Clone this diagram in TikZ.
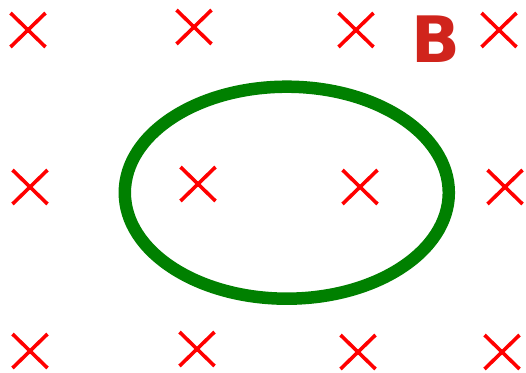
\documentclass[tikz,border=0pt]{standalone}
\usepackage{fontspec}
\setmainfont{DejaVu Sans}
\definecolor{bred}{RGB}{208,36,28}
\definecolor{loopgreen}{RGB}{0,128,0}
\tikzset{
  crossmark/.style={draw=red, line width=3.6pt},
  loopline/.style={draw=loopgreen, line width=12.5pt}
}
\begin{document}
\begin{tikzpicture}[x=1pt,y=-1pt]
\useasboundingbox (0,0) rectangle (526,372);
\foreach \cx/\cy in {28/30, 194/27, 356/30, 499/30,
                     30/187, 198/184, 360/187, 505/187,
                     30/351, 197/349, 358/352, 502/352}{
  \draw[crossmark] (\cx-17.5,\cy-17) -- (\cx+17.5,\cy+17);
  \draw[crossmark] (\cx-17.5,\cy+17) -- (\cx+17.5,\cy-17);
}
\draw[loopline] (286.8,192.7) ellipse [x radius=162, y radius=106];
\node[text=bred, font=\bfseries\fontsize{64}{64}\selectfont, inner sep=0pt, anchor=base] (B) at (436,62) {B};
\end{tikzpicture}
\end{document}
